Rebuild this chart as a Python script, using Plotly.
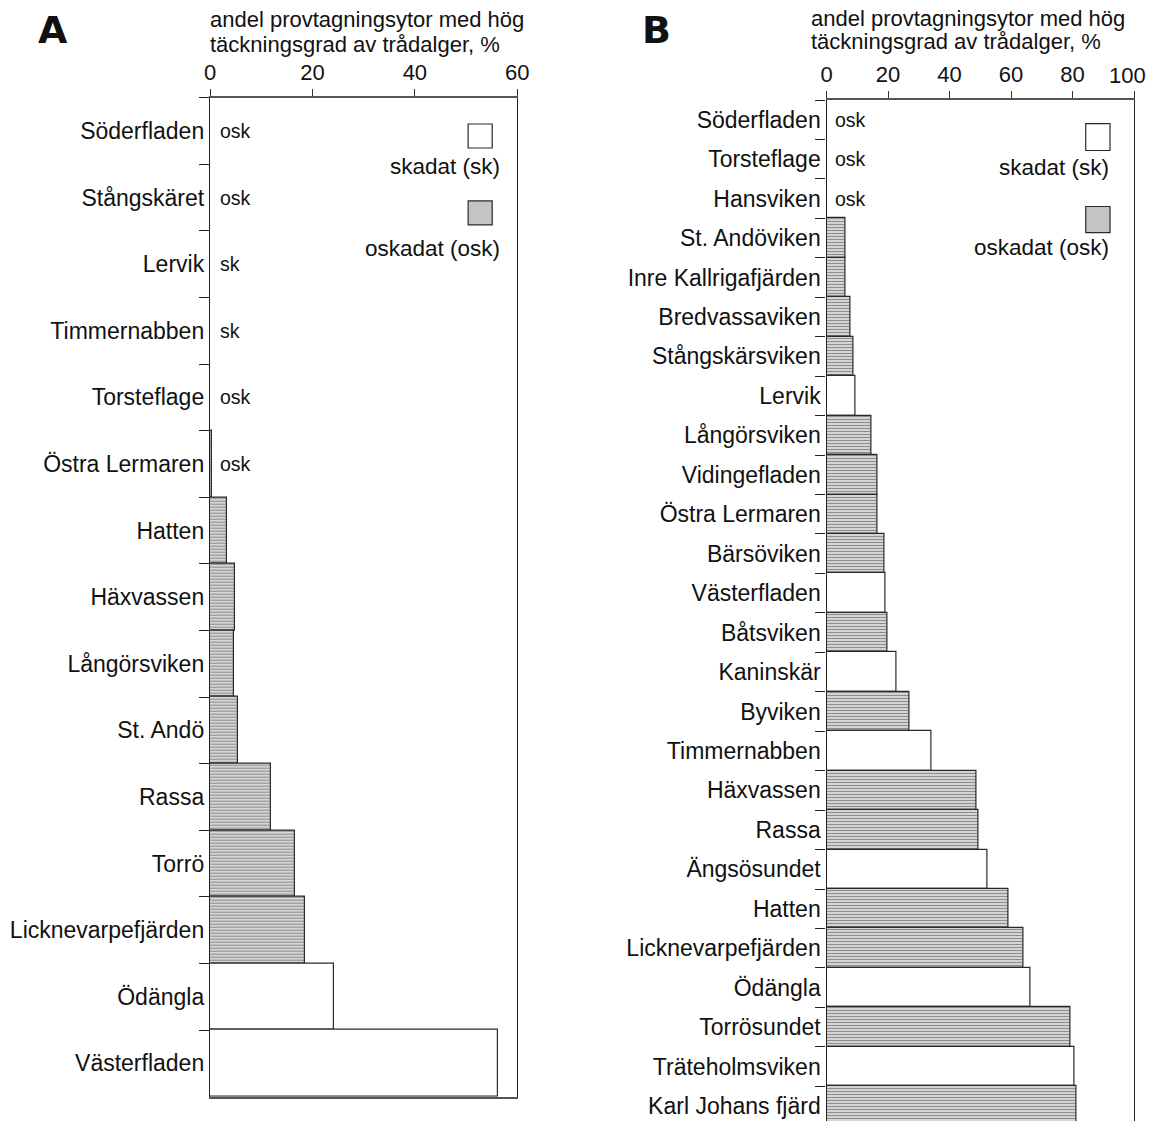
import plotly.graph_objects as go

# ---- Data: panel A ----
sites_a = ["Söderfladen", "Stångskäret", "Lervik", "Timmernabben", "Torsteflage",
           "Östra Lermaren", "Hatten", "Häxvassen", "Långörsviken", "St. Andö",
           "Rassa", "Torrö", "Licknevarpefjärden", "Ödängla", "Västerfladen"]
values_a = [0, 0, 0, 0, 0, 0.4, 3.3, 4.8, 4.6, 5.5, 11.9, 16.6, 18.5, 24.3, 56.3]
status_a = ["osk", "osk", "sk", "sk", "osk", "osk", "osk", "osk", "osk", "osk",
            "osk", "osk", "osk", "sk", "sk"]

# ---- Data: panel B ----
sites_b = ["Söderfladen", "Torsteflage", "Hansviken", "St. Andöviken",
           "Inre Kallrigafjärden", "Bredvassaviken", "Stångskärsviken", "Lervik",
           "Långörsviken", "Vidingefladen", "Östra Lermaren", "Bärsöviken",
           "Västerfladen", "Båtsviken", "Kaninskär", "Byviken", "Timmernabben",
           "Häxvassen", "Rassa", "Ängsösundet", "Hatten", "Licknevarpefjärden",
           "Ödängla", "Torrösundet", "Träteholmsviken", "Karl Johans fjärd"]
values_b = [0, 0, 0, 6.1, 6.1, 7.7, 8.8, 9.3, 14.6, 16.7, 16.7, 19.0, 19.3, 19.7,
            22.9, 26.9, 34.2, 48.8, 49.5, 52.3, 59.2, 64.0, 66.4, 79.3, 80.8, 81.4]
status_b = ["osk", "osk", "osk", "osk", "osk", "osk", "osk", "sk", "osk", "osk",
            "osk", "osk", "sk", "osk", "sk", "osk", "sk", "osk", "osk", "sk",
            "osk", "osk", "sk", "osk", "sk", "osk"]

x_ticks_a = [0, 20, 40, 60]
x_ticks_b = [0, 20, 40, 60, 80, 100]
axis_title = ["andel provtagningsytor med hög", "täckningsgrad av trådalger, %"]
legend_labels = {"sk": "skadat (sk)", "osk": "oskadat (osk)"}

FONT = "Arial, Liberation Sans, Helvetica, sans-serif"
W, H = 1152, 1121
GREY = "#d4d4d4"        # background of the hatched (undamaged) bars
HATCH = "#9a9a9a"       # hatch line colour
SWATCH = "#c4c4c4"      # legend swatch tone for the hatched fill
EDGE = "#2a2a2a"


def bar_style(status):
    colors = ["white" if s == "sk" else GREY for s in status]
    shapes = ["" if s == "sk" else "-" for s in status]
    return colors, shapes


fig = go.Figure()

for sites, vals, status, xa, ya in [
    (sites_a, values_a, status_a, "x", "y"),
    (sites_b, values_b, status_b, "x2", "y2"),
]:
    colors, shapes = bar_style(status)
    fig.add_trace(go.Bar(
        x=vals, y=sites, orientation="h", width=1.0,
        marker=dict(color=colors, line=dict(color=EDGE, width=1.2),
                    pattern=dict(shape=shapes, fgcolor=HATCH, size=3,
                                 solidity=0.33)),
        xaxis=xa, yaxis=ya, showlegend=False, hoverinfo="x+y",
    ))


# pixel -> paper helpers for layout placement
def px_x(p):
    return p / W


def px_y(p):
    return (H - p) / H


tick_font = dict(family=FONT, size=22, color="#111")

common_x = dict(side="top", ticks="outside", ticklen=7, tickwidth=1.2,
                tickcolor="#333", showline=True, linecolor="#555", linewidth=1.6,
                showgrid=False, zeroline=False, tickfont=tick_font,
                automargin=False)
common_y = dict(type="category", tickson="boundaries", ticks="outside",
                ticklen=10, tickwidth=1.2, tickcolor="#222", showline=True,
                linecolor="#222", linewidth=1.4, mirror=True, showgrid=False,
                zeroline=False, automargin=False,
                tickfont=dict(family=FONT, size=23, color="#111"))

# the last label of panel B sits at the page edge: it is written separately,
# shifted slightly inwards, and left blank on the axis itself
tick_text_b = [str(v) for v in x_ticks_b]
edge_label_b = tick_text_b[-1]
tick_text_b[-1] = ""

fig.update_layout(
    width=W, height=H, autosize=False,
    margin=dict(l=0, r=0, t=0, b=0, pad=0),
    paper_bgcolor="white", plot_bgcolor="white",
    bargap=0,
    xaxis=dict(domain=[px_x(210), px_x(517.3)], range=[0, 60],
               tickvals=x_ticks_a, mirror=True, anchor="y", **common_x),
    yaxis=dict(domain=[px_y(1096.7), px_y(97.7)],
               categoryorder="array", categoryarray=sites_a,
               range=[len(sites_a) - 0.5, -0.5], anchor="x", **common_y),
    xaxis2=dict(domain=[px_x(826.5), px_x(1134)], range=[0, 100],
                tickvals=x_ticks_b, ticktext=tick_text_b, anchor="y2",
                **common_x),
    yaxis2=dict(domain=[0, px_y(100)],
                categoryorder="array", categoryarray=sites_b,
                range=[25.38, -0.5], anchor="x2", **common_y),
)

annotations = []
shapes = []

annotations.append(dict(text=edge_label_b, x=px_x(1127), y=px_y(75),
                        xref="paper", yref="paper", xanchor="center",
                        yanchor="middle", showarrow=False, font=tick_font))

# panel letters
for letter, xc in [("A", 53), ("B", 656)]:
    annotations.append(dict(text=f"<b>{letter}</b>", x=px_x(xc), y=px_y(30),
                            xref="paper", yref="paper", xanchor="center",
                            yanchor="middle", showarrow=False,
                            font=dict(family="DejaVu Sans, " + FONT, size=38,
                                      color="#111")))

# axis titles above each panel
for x0, y1, y2 in [(208, 20, 44), (809, 18, 42)]:
    for line, yc in zip(axis_title, [y1, y2]):
        annotations.append(dict(text=line, x=px_x(x0), y=px_y(yc),
                                xref="paper", yref="paper", xanchor="left",
                                yanchor="middle", showarrow=False,
                                font=dict(family=FONT, size=22, color="#111")))

# status labels on empty / near-empty rows
for sites, vals, status, xa, ya, xoff in [
    (sites_a, values_a, status_a, "x", "y", 1.5),
    (sites_b, values_b, status_b, "x2", "y2", 2.0),
]:
    for s, v, st in zip(sites, vals, status):
        if v < 1:
            annotations.append(dict(text=st, x=xoff, y=s, xref=xa, yref=ya,
                                    xanchor="left", yanchor="middle",
                                    showarrow=False,
                                    font=dict(family=FONT, size=19.5, color="#111")))

# legend boxes and labels inside each panel (data coordinates)
legend_specs = [
    # xref, yref, box x0, x1, box rows (sk), label y (sk), box rows (osk), label y (osk), label x
    ("x", "y", 50.4, 55.1, (-0.105, 0.255), 0.54, (1.05, 1.41), 1.76, 57.0),
    ("x2", "y2", 84.3, 92.2, (0.1, 0.78), 1.22, (2.2, 2.86), 3.23, 92.6),
]
for xr, yr, bx0, bx1, sk_rows, sk_lab, osk_rows, osk_lab, lx in legend_specs:
    shapes.append(dict(type="rect", xref=xr, yref=yr, x0=bx0, x1=bx1,
                       y0=sk_rows[0], y1=sk_rows[1], fillcolor="white",
                       line=dict(color=EDGE, width=1.2)))
    shapes.append(dict(type="rect", xref=xr, yref=yr, x0=bx0, x1=bx1,
                       y0=osk_rows[0], y1=osk_rows[1], fillcolor=SWATCH,
                       line=dict(color=EDGE, width=1.2)))
    for key, yy in [("sk", sk_lab), ("osk", osk_lab)]:
        annotations.append(dict(text=legend_labels[key], x=lx, y=yy, xref=xr,
                                yref=yr, xanchor="right", yanchor="middle",
                                showarrow=False,
                                font=dict(family=FONT, size=22.5, color="#111")))

fig.update_layout(annotations=annotations, shapes=shapes)

fig.write_html(
    "out.html",
    config={"responsive": False},
    post_script="document.body.style.margin='0';"
                "document.body.style.overflow='hidden';",
)
